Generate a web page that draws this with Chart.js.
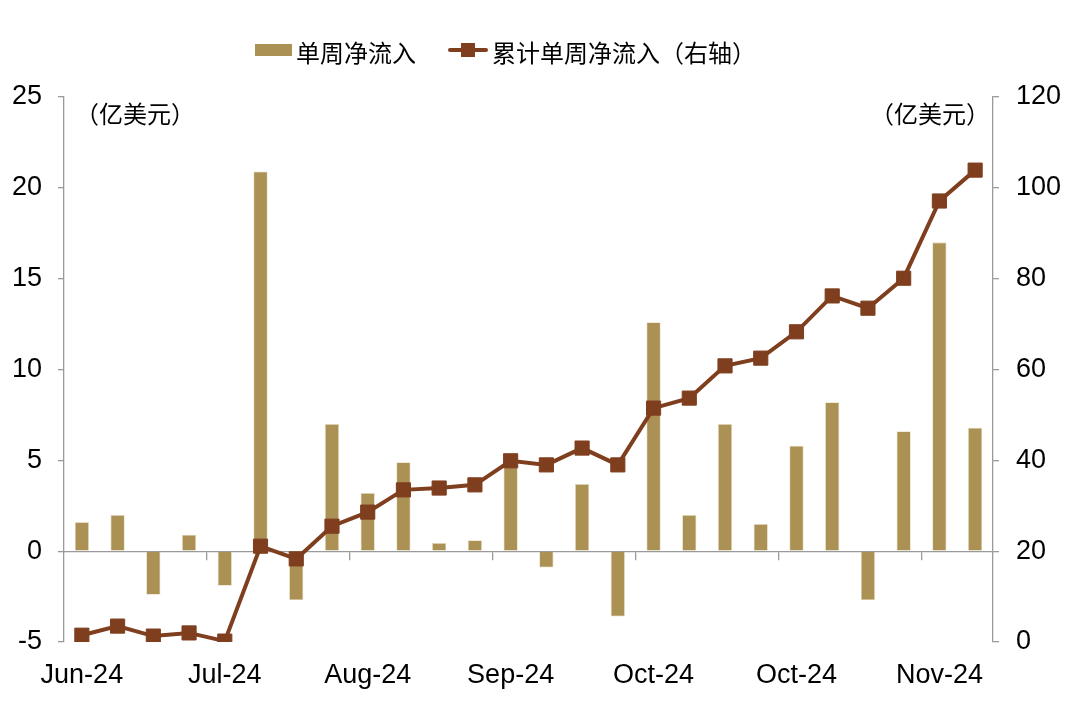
<!DOCTYPE html>
<html><head><meta charset="utf-8">
<script src="https://cdn.jsdelivr.net/npm/chart.js@4/dist/chart.umd.min.js"></script>
<style>
html,body{margin:0;padding:0;background:#fff;}
#wrap{position:relative;width:1080px;height:709px;overflow:hidden;}
#c{position:absolute;left:0;top:0;}
.t{position:absolute;font-family:"Noto Sans CJK SC","Liberation Sans",sans-serif;font-size:24px;color:#000;line-height:24px;white-space:nowrap;}
.patch{position:absolute;}
</style></head><body>
<div id="wrap">
<canvas id="c" width="1080" height="709"></canvas>
<div class="patch" style="left:255px;top:44px;width:37px;height:12px;background:#AB9254;"></div>
<div class="t" id="lg1" style="left:296px;top:40px;"></div>
<div class="patch" style="left:448px;top:48px;width:40px;height:4px;background:#7F3F1F;border-radius:2px;"></div>
<div class="patch" style="left:461px;top:43px;width:14px;height:14px;background:#7F3F1F;"></div>
<div class="t" id="lg2" style="left:492px;top:40px;"></div>
<div class="t" id="unitL" style="left:75px;top:101px;"></div>
<div class="t" id="unitR" style="left:870px;top:101px;"></div>
</div>
<script>
const categories = ["Jun-24","","","","Jul-24","","","","Aug-24","","","","Sep-24","","","","Oct-24","","","","Oct-24","","","","Nov-24",""];
const weeklyFlow = [1.6,2.0,-2.4,0.9,-1.9,20.9,-2.7,7.0,3.2,4.9,0.45,0.6,5.2,-0.9,3.7,-3.6,12.6,2.0,7.0,1.5,5.8,8.2,-2.7,6.6,17.0,6.8];
const cumulativeFlow = [1.5,3.5,1.3,2.0,0.2,21.1,18.3,25.5,28.6,33.5,33.9,34.6,39.9,39.0,42.7,39.0,51.5,53.7,60.8,62.5,68.3,76.2,73.5,80.1,97.1,103.9];
const leftTicks = [-5,0,5,10,15,20,25];
const rightTicks = [0,20,40,60,80,100,120];
const seriesNames = ["单周净流入","累计单周净流入（右轴）"];
const unitLabel = "（亿美元）";

document.getElementById('lg1').textContent = seriesNames[0];
document.getElementById('lg2').textContent = seriesNames[1];
document.getElementById('unitL').textContent = unitLabel;
document.getElementById('unitR').textContent = unitLabel;

const FONT = {family: '"Liberation Sans", Arial, "Noto Sans CJK SC", sans-serif', size: 27};
const AXIS = '#9a9a9a';

new Chart(document.getElementById('c'), {
  data: {
    labels: categories,
    datasets: [
      {
        type: 'line', label: seriesNames[1], data: cumulativeFlow, yAxisID: 'yR', xAxisID: 'x', order: 0,
        borderColor: '#7F3F1F', borderWidth: 4, pointStyle: 'rect', pointRadius: 10,
        pointBackgroundColor: '#7F3F1F', pointBorderColor: '#7F3F1F', pointBorderWidth: 1, tension: 0
      },
      {
        type: 'bar', label: seriesNames[0], data: weeklyFlow, yAxisID: 'y', xAxisID: 'x', order: 1,
        backgroundColor: '#AB9254', borderColor: '#E6DCC2', borderWidth: 0.8,
        barPercentage: 0.4, categoryPercentage: 1.0
      }
    ]
  },
  options: {
    responsive: false, animation: false, devicePixelRatio: 1,
    layout: {padding: {top: 97, bottom: 0, left: 0, right: 0}},
    plugins: {legend: {display: false}, tooltip: {enabled: false}},
    scales: {
      x: {
        type: 'category', position: 'bottom', offset: true,
        grid: {display: false, drawTicks: false, offset: true},
        border: {display: false},
        ticks: {autoSkip: false, maxRotation: 0, minRotation: 0, padding: 17, color: '#000', font: FONT},
        afterFit: s => { s.height = 67; }
      },
      x2: {
        type: 'category', position: {y: 0}, offset: true,
        grid: {
          display: true, drawOnChartArea: false, drawTicks: true, tickLength: 8, offset: true,
          color: ctx => (ctx.index > 0 && ctx.index % 4 === 0) ? AXIS : 'rgba(0,0,0,0)', lineWidth: 1.3
        },
        border: {display: true, color: AXIS, width: 1.3},
        ticks: {display: false, autoSkip: false}
      },
      y: {
        position: 'left', min: leftTicks[0], max: leftTicks[leftTicks.length-1],
        afterBuildTicks: s => { s.ticks = leftTicks.map(v => ({value: v})); },
        grid: {display: true, drawOnChartArea: false, drawTicks: true, tickLength: 6, color: AXIS, lineWidth: 1.3},
        border: {display: true, color: AXIS, width: 1.3},
        ticks: {padding: 16, color: '#000', font: FONT},
        afterFit: s => { s.width = 64; }
      },
      yR: {
        position: 'right', min: rightTicks[0], max: rightTicks[rightTicks.length-1],
        afterBuildTicks: s => { s.ticks = rightTicks.map(v => ({value: v})); },
        grid: {display: true, drawOnChartArea: false, drawTicks: true, tickLength: 6, color: AXIS, lineWidth: 1.3},
        border: {display: true, color: AXIS, width: 1.3},
        ticks: {padding: 17, color: '#000', font: FONT},
        afterFit: s => { s.width = 87; }
      }
    }
  }
});
</script>
</body></html>
